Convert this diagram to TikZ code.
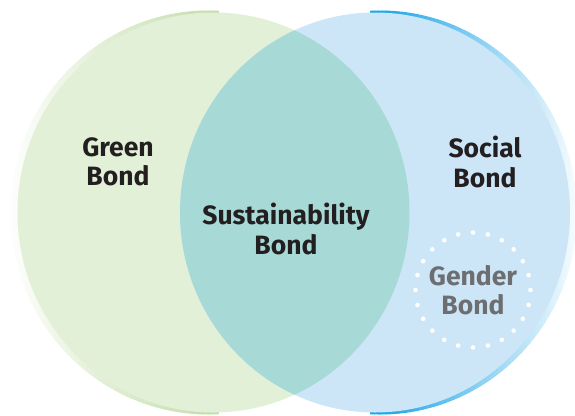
\documentclass[tikz,border=0pt]{standalone}
\usepackage{fontspec}
\setmainfont{Fira Sans}
\usetikzlibrary{positioning}
\definecolor{greenfill}{HTML}{E3F0D8}
\definecolor{greenrim}{HTML}{C3DEAA}
\definecolor{bluefill}{HTML}{CCE6F7}
\definecolor{bluerim}{HTML}{1EA6E6}
\definecolor{tealfill}{HTML}{A7D9D7}
\definecolor{darktext}{HTML}{231F20}
\definecolor{graytext}{HTML}{6D6E71}
\begin{document}
\begin{tikzpicture}[x=1pt,y=-1pt,
setlabel/.style ={text=darktext, align=center,
  font=\bfseries\fontsize{26.5}{29.5}\selectfont, inner sep=0pt
},
sublabel/.style ={setlabel, text=graytext}]
\useasboundingbox (0,0) rectangle (575,415);
% soft rims behind the two sets
\begin{scope}
  \clip (208.5,212.5) ellipse [x radius=198, y radius=202];
  \foreach \x in {2,6,...,214} {
    \pgfmathtruncatemacro\p{max(0,min(100,(\x-2)/2.08))}
    \fill[greenrim!\p!white] (\x,0) rectangle (\x+4.6,415);
  }
\end{scope}
\begin{scope}
  \clip (380,212.5) ellipse [x radius=197, y radius=202];
  \foreach \x in {370,374,...,582} {
    \pgfmathtruncatemacro\p{max(0,min(100,(582-\x)/2))}
    \fill[bluerim!\p!white] (\x,0) rectangle (\x+4.6,415);
  }
\end{scope}
% the two sets and their overlap
\fill[greenfill] (213.5,212.5) ellipse [x radius=196, y radius=200];
\fill[bluefill] (375,212.5) ellipse [x radius=195, y radius=200];
\begin{scope}
  \clip (213.5,212.5) ellipse [x radius=196, y radius=200];
  \fill[tealfill] (375,212.5) ellipse [x radius=195, y radius=200];
\end{scope}
% dotted ring of the sub set
\foreach \a in {0,15,...,345}
  \fill[white] (473,290) ++(\a:57.5) circle (2.3);
\node (green) at (118,162) [setlabel] {Green\\Bond};
\node (social) at (485,162) [setlabel] {Social\\Bond};
\node (sustain) at (286,229) [setlabel] {Sustainability\\Bond};
\node (gender) at (473,290) [sublabel] {Gender\\Bond};
\end{tikzpicture}
\end{document}
